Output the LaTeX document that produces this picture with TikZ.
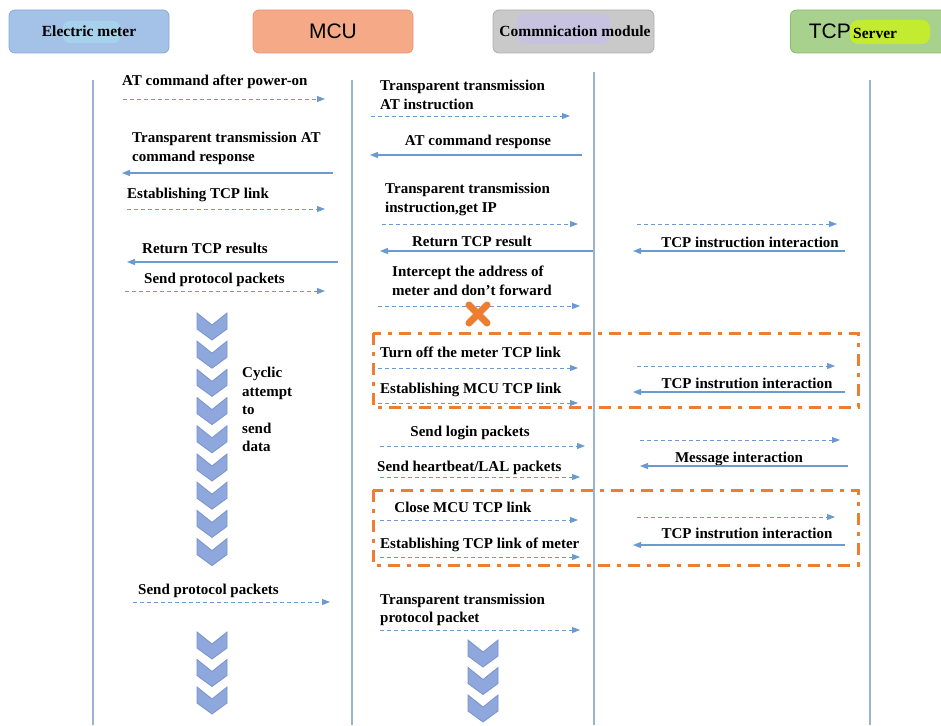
\documentclass[tikz,border=0pt]{standalone}
\usepackage{fontspec}
\setmainfont{Liberation Serif}
\newfontfamily\sansf{Liberation Sans}
\usetikzlibrary{arrows.meta}
\definecolor{lifec}{HTML}{9CB2D1}
\definecolor{arrc}{HTML}{6A9AD0}
\definecolor{orng}{HTML}{ED7D31}
\definecolor{chevf}{HTML}{8EA8DD}
\definecolor{chevd}{HTML}{7A93CC}
\definecolor{meterf}{HTML}{A4C2E8}
\definecolor{meterd}{HTML}{8AA8D6}
\definecolor{mcuf}{HTML}{F6A987}
\definecolor{mcud}{HTML}{E8957A}
\definecolor{comf}{HTML}{C9C9C9}
\definecolor{comd}{HTML}{ADADAD}
\definecolor{srvf}{HTML}{A9D18E}
\definecolor{srvd}{HTML}{8CB870}
\definecolor{hlcyan}{HTML}{A9DDF0}
\definecolor{hllav}{HTML}{C5BEF0}
\definecolor{hllime}{HTML}{C8F020}
\begin{document}
\begin{tikzpicture}[x=1pt,y=-1pt,
  lbl/.style={font=\bfseries\fontsize{15}{18.5}\selectfont, inner sep=0pt, align=left},
  hdr/.style={rounded corners=6pt, line width=0.8pt, minimum width=160pt, minimum height=43pt, inner sep=0pt},
  htxt/.style={font=\bfseries\fontsize{15.5}{18}\selectfont, inner sep=0pt},
  life/.style={draw=lifec, line width=1.3pt},
  dmsg/.style={draw=arrc, line width=0.9pt, dash pattern=on 4pt off 3pt, -{Triangle[length=8pt,width=6pt]}},
  smsg/.style={draw=arrc, line width=1.1pt, -{Triangle[length=8pt,width=6pt]}},
  grp/.style={draw=orng, line width=3pt, dash pattern=on 12pt off 7pt on 4pt off 7pt},
  chevst/.style={fill=chevf, draw=chevd, line width=0.8pt, line join=miter}]
\clip (0,0) rectangle (941,725);
\fill[white] (0,0) rectangle (941,725);

% headers
\node[hdr, fill=meterf, draw=meterd] (hm) at (89,31.5) {};
\fill[hlcyan, opacity=0.6, rounded corners=7pt] (63,21) rectangle (120,43);
\node[htxt] (hmt) at (89,31.5) {Electric meter};

\node[hdr, fill=mcuf, draw=mcud] (hmcu) at (333,31.5) {};
\node[font=\sansf\fontsize{21}{24}\selectfont, inner sep=0pt] (hmcut) at (333,31.5) {MCU};

\node[hdr, fill=comf, draw=comd, minimum width=161pt] (hcom) at (573.5,31.5) {};
\fill[hllav, opacity=0.6, rounded corners=8pt] (517,14) rectangle (610,44);
\node[htxt] (hcomt) at (575,31.5) {Commnication module};

\node[hdr, fill=srvf, draw=srvd, minimum width=170pt, anchor=west] (hsrv) at (790,31.5) {};
\fill[hllime, opacity=0.85, rounded corners=8pt] (850,20) rectangle (930,44);
\node[font=\sansf\fontsize{21}{24}\selectfont, inner sep=0pt, anchor=east] (hsrvt1) at (851,31.5) {TCP};
\node[htxt, anchor=west] (hsrvt2) at (853,33) {Server};

% lifelines
\path (93,80) coordinate (lm1) (93,725) coordinate (lm2)
      (352,80) coordinate (lc1) (352,725) coordinate (lc2)
      (594,72) coordinate (lo1) (594,725) coordinate (lo2)
      (870,80) coordinate (ls1) (870,725) coordinate (ls2);
\draw[life] (lm1) -- (lm2);
\draw[life] (lc1) -- (lc2);
\draw[life] (lo1) -- (lo2);
\draw[life] (ls1) -- (ls2);

% orange groups
\draw[grp] (373,333) rectangle (858,407);
\draw[grp] (373,490) rectangle (858,565);

% left column: meter <-> MCU
\node[lbl, anchor=west] (tl1) at (122,82) {AT command after power-on};
\path (123,99) coordinate (l1a) (325,99) coordinate (l1b);
\draw[dmsg] (l1a) -- (l1b);

\node[lbl, anchor=west] (tl2) at (132,148.5) {Transparent transmission AT\\command response};
\path (333,173) coordinate (l2a) (122,173) coordinate (l2b);
\draw[smsg] (l2a) -- (l2b);

\node[lbl, anchor=west] (tl3) at (127,195) {Establishing TCP link};
\path (127,209) coordinate (l3a) (325,209) coordinate (l3b);
\draw[dmsg] (l3a) -- (l3b);

\node[lbl, anchor=west] (tl4) at (142,248) {Return TCP results};
\path (338,262) coordinate (l4a) (127,262) coordinate (l4b);
\draw[smsg] (l4a) -- (l4b);

\node[lbl, anchor=west] (tl5) at (144,280) {Send protocol packets};
\path (125,291) coordinate (l5a) (325,291) coordinate (l5b);
\draw[dmsg] (l5a) -- (l5b);

\node[lbl, anchor=west] (tl6) at (138,591) {Send protocol packets};
\path (133,602) coordinate (l6a) (330,602) coordinate (l6b);
\draw[dmsg] (l6a) -- (l6b);

% middle column: MCU <-> communication module
\node[lbl, anchor=west] (tm1) at (380,95) {Transparent transmission\\AT instruction};
\path (371,116) coordinate (m1a) (570,116) coordinate (m1b);
\draw[dmsg] (m1a) -- (m1b);

\node[lbl] (tm2) at (478,142) {AT command response};
\path (582,155) coordinate (m2a) (370,155) coordinate (m2b);
\draw[smsg] (m2a) -- (m2b);

\node[lbl, anchor=west] (tm3) at (385,199.5) {Transparent transmission\\instruction,get IP};
\path (382,224) coordinate (m3a) (578,224) coordinate (m3b);
\draw[dmsg] (m3a) -- (m3b);

\node[lbl] (tm4) at (472,241) {Return TCP result};
\path (593,251) coordinate (m4a) (380,251) coordinate (m4b);
\draw[smsg] (m4a) -- (m4b);

\node[lbl, anchor=west] (tm5) at (392,281) {Intercept the address of\\meter and don't forward};
\path (378,306) coordinate (m5a) (580,306) coordinate (m5b);
\draw[dmsg] (m5a) -- (m5b);
\draw[orng, line width=7pt, line cap=round] (469,305) -- (487,323) (469,323) -- (487,305);

\node[lbl, anchor=west] (tm6) at (380,352) {Turn off the meter TCP link};
\path (378,368) coordinate (m6a) (578,368) coordinate (m6b);
\draw[dmsg] (m6a) -- (m6b);

\node[lbl, anchor=west] (tm7) at (380,390) {Establishing MCU TCP link};
\path (378,403) coordinate (m7a) (578,403) coordinate (m7b);
\draw[dmsg] (m7a) -- (m7b);

\node[lbl] (tm8) at (470,433) {Send login packets};
\path (380,446) coordinate (m8a) (585,446) coordinate (m8b);
\draw[dmsg] (m8a) -- (m8b);

\node[lbl, anchor=west] (tm9) at (377,468) {Send heartbeat/LAL packets};
\path (380,477) coordinate (m9a) (580,477) coordinate (m9b);
\draw[dmsg] (m9a) -- (m9b);

\node[lbl] (tm10) at (463,507) {Close MCU TCP link};
\path (380,520) coordinate (m10a) (578,520) coordinate (m10b);
\draw[dmsg] (m10a) -- (m10b);

\node[lbl, anchor=west] (tm11) at (380,545) {Establishing TCP link of meter};
\path (380,557) coordinate (m11a) (580,557) coordinate (m11b);
\draw[dmsg] (m11a) -- (m11b);

\node[lbl, anchor=west] (tm12) at (380,610) {Transparent transmission\\protocol packet};
\path (380,630) coordinate (m12a) (580,630) coordinate (m12b);
\draw[dmsg] (m12a) -- (m12b);

% right column: communication module <-> server
\path (637,224) coordinate (r1a) (837,224) coordinate (r1b)
      (845,251) coordinate (r1c) (633,251) coordinate (r1d);
\draw[dmsg] (r1a) -- (r1b);
\node[lbl] (tr1) at (750,242) {TCP instruction interaction};
\draw[smsg] (r1c) -- (r1d);

\path (637,366) coordinate (r2a) (835,366) coordinate (r2b)
      (845,392) coordinate (r2c) (633,392) coordinate (r2d);
\draw[dmsg] (r2a) -- (r2b);
\node[lbl] (tr2) at (747,383) {TCP instrution interaction};
\draw[smsg] (r2c) -- (r2d);

\path (640,440) coordinate (r3a) (840,440) coordinate (r3b)
      (848,466) coordinate (r3c) (640,466) coordinate (r3d);
\draw[dmsg] (r3a) -- (r3b);
\node[lbl] (tr3) at (739,459) {Message interaction};
\draw[smsg] (r3c) -- (r3d);

\path (637,517) coordinate (r4a) (835,517) coordinate (r4b)
      (845,545) coordinate (r4c) (633,545) coordinate (r4d);
\draw[dmsg] (r4a) -- (r4b);
\node[lbl] (tr4) at (747,533) {TCP instrution interaction};
\draw[smsg] (r4c) -- (r4d);

% chevrons
\foreach \i in {0,...,8} {
  \pgfmathsetmacro\yy{313+28.2*\i}
  \filldraw[chevst] (197,\yy) -- (212,\yy+12) -- (227,\yy) -- (227,\yy+16) -- (212,\yy+27) -- (197,\yy+16) -- cycle;
}
\foreach \i in {0,1,2} {
  \pgfmathsetmacro\yy{632+27.5*\i}
  \filldraw[chevst] (197,\yy) -- (212,\yy+12) -- (227,\yy) -- (227,\yy+16) -- (212,\yy+27) -- (197,\yy+16) -- cycle;
  \pgfmathsetmacro\zz{640+27.5*\i}
  \filldraw[chevst] (468,\zz) -- (483,\zz+12) -- (498,\zz) -- (498,\zz+16) -- (483,\zz+27) -- (468,\zz+16) -- cycle;
}
\node[lbl, anchor=west] (cyc) at (242,409.5) {Cyclic\\attempt\\to\\send\\data};
\end{tikzpicture}
\end{document}
